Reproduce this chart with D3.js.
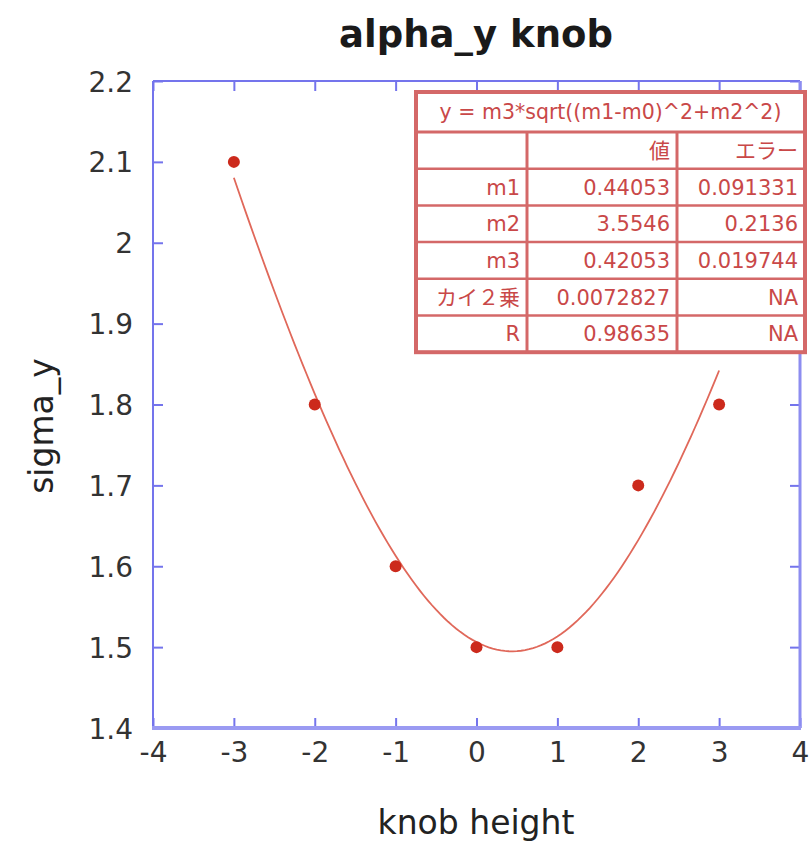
<!DOCTYPE html>
<html>
<head>
<meta charset="utf-8">
<script src="https://cdn.jsdelivr.net/npm/d3@7"></script>
<style>
  body { margin: 0; background: #fff; }
  svg { display: block; }
</style>
</head>
<body>
<div id="chart"></div>
<script>
// measured points
const knobHeight = [-3, -2, -1, 0, 1, 2, 3];
const sigmaY = [2.1, 1.8, 1.6, 1.5, 1.5, 1.7, 1.8];

// fit result table (y = m3*sqrt((m1-m0)^2+m2^2))
const fitFormula = "y = m3*sqrt((m1-m0)^2+m2^2)";
const tableHeader = ["", "値", "エラー"];
const rowNames = ["m1", "m2", "m3", "カイ２乗", "R"];
const rowValues = ["0.44053", "3.5546", "0.42053", "0.0072827", "0.98635"];
const rowErrors = ["0.091331", "0.2136", "0.019744", "NA", "NA"];
const m1 = 0.44053, m2 = 3.5546, m3 = 0.42053;

const xTicks = [-4, -3, -2, -1, 0, 1, 2, 3, 4];
const yTicks = [1.4, 1.5, 1.6, 1.7, 1.8, 1.9, 2, 2.1, 2.2];

const width = 810, height = 844;
const margin = ({ top: 81, right: 10, bottom: 116, left: 153 });

const x = d3.scaleLinear().domain([-4, 4]).range([margin.left, width - margin.right]);
const y = d3.scaleLinear().domain([1.4, 2.2]).range([height - margin.bottom, margin.top]);

const svg = d3.select("#chart").append("svg")
    .attr("width", width)
    .attr("height", height);

const axisFont = "'DejaVu Sans', Verdana, sans-serif";
const blue = "#7474ec";
const red = "#cc2a1c";

// title
svg.append("text")
    .attr("x", 476).attr("y", 47)
    .attr("text-anchor", "middle")
    .attr("font-family", axisFont)
    .attr("font-weight", "bold")
    .attr("font-size", 37)
    .attr("fill", "#1a1a1a")
    .text("alpha_y knob");

// axes with inner ticks
const tickLen = 10;
const fmt = d => String(d); // plain hyphen, like the original

const xb = svg.append("g")
    .attr("transform", `translate(0,${y(1.4)})`)
    .call(d3.axisBottom(x).tickValues(xTicks).tickSizeInner(-tickLen).tickSizeOuter(0).tickPadding(tickLen + 10).tickFormat(fmt));
const xt = svg.append("g")
    .attr("transform", `translate(0,${y(2.2)})`)
    .call(d3.axisTop(x).tickValues(xTicks).tickSizeInner(-tickLen).tickSizeOuter(0).tickFormat(""));
const yl = svg.append("g")
    .attr("transform", `translate(${x(-4)},0)`)
    .call(d3.axisLeft(y).tickValues(yTicks).tickSizeInner(-tickLen).tickSizeOuter(0).tickPadding(20).tickFormat(fmt));
const yr = svg.append("g")
    .attr("transform", `translate(${x(4)},0)`)
    .call(d3.axisRight(y).tickValues(yTicks).tickSizeInner(-tickLen).tickSizeOuter(0).tickFormat(""));

[xb, xt, yl, yr].forEach(g => {
    g.select(".domain").remove();
    g.selectAll(".tick line").attr("stroke", blue).attr("stroke-width", 2);
    g.selectAll(".tick text")
        .attr("font-family", axisFont)
        .attr("font-size", 28)
        .attr("fill", "#333");
});
xb.selectAll(".tick text").attr("dy", "0.5em");
yl.selectAll(".tick text").attr("dy", "0.36em");

// frame
svg.append("line").attr("x1", x(-4)).attr("x2", x(-4)).attr("y1", y(2.2)).attr("y2", y(1.4))
    .attr("stroke", blue).attr("stroke-width", 2);
svg.append("line").attr("x1", x(-4)).attr("x2", x(4)).attr("y1", y(2.2)).attr("y2", y(2.2))
    .attr("stroke", blue).attr("stroke-width", 2);
svg.append("line").attr("x1", x(4)).attr("x2", x(4)).attr("y1", y(2.2)).attr("y2", y(1.4))
    .attr("stroke", "#8d8df0").attr("stroke-width", 3);
svg.append("line").attr("x1", x(-4) - 1).attr("x2", x(4) + 1).attr("y1", y(1.4)).attr("y2", y(1.4))
    .attr("stroke", "#9a9af2").attr("stroke-width", 4);

// axis titles
svg.append("text")
    .attr("x", 476).attr("y", 834)
    .attr("text-anchor", "middle")
    .attr("font-family", axisFont)
    .attr("font-size", 33)
    .attr("fill", "#222")
    .text("knob height");

svg.append("text")
    .attr("transform", "translate(53,426) rotate(-90)")
    .attr("text-anchor", "middle")
    .attr("font-family", axisFont)
    .attr("font-size", 33)
    .attr("fill", "#222")
    .text("sigma_y");

// fit curve
const curveX = d3.range(-3, 3.0001, 0.05);
const fitLine = d3.line()
    .x(d => x(d))
    .y(d => y(m3 * Math.sqrt((m1 - d) ** 2 + m2 ** 2)));
svg.append("path")
    .datum(curveX)
    .attr("fill", "none")
    .attr("stroke", "#e0685a")
    .attr("stroke-width", 1.8)
    .attr("d", fitLine);

// points
svg.append("g")
    .selectAll("circle")
    .data(knobHeight)
    .join("circle")
    .attr("cx", d => x(d))
    .attr("cy", (d, i) => y(sigmaY[i]))
    .attr("r", 6)
    .attr("fill", red);

// fit table
const tb = { x: 416, y: 92, w: 389, titleH: 40, rowH: 36.7 };
const colX = [416, 527, 677, 805];
const tableColor = "#d46868";
const textColor = "#c94848";
const tableFont = "'DejaVu Sans', 'Noto Sans CJK JP', sans-serif";
const nRows = rowNames.length + 1;
const tableH = tb.titleH + nRows * tb.rowH;
const table = svg.append("g");

table.append("rect")
    .attr("x", tb.x).attr("y", tb.y)
    .attr("width", tb.w).attr("height", tableH)
    .attr("fill", "#fff")
    .attr("stroke", tableColor).attr("stroke-width", 4);

// horizontal separators
d3.range(nRows).forEach(i => {
    const yy = tb.y + tb.titleH + i * tb.rowH;
    table.append("line")
        .attr("x1", tb.x).attr("x2", tb.x + tb.w)
        .attr("y1", yy).attr("y2", yy)
        .attr("stroke", tableColor).attr("stroke-width", i === 0 ? 3 : 2.5);
});
// vertical separators
[colX[1], colX[2]].forEach(cx => {
    table.append("line")
        .attr("x1", cx).attr("x2", cx)
        .attr("y1", tb.y + tb.titleH).attr("y2", tb.y + tableH)
        .attr("stroke", tableColor).attr("stroke-width", 3);
});

table.append("text")
    .attr("x", (tb.x + tb.x + tb.w) / 2).attr("y", tb.y + tb.titleH / 2 + 7)
    .attr("text-anchor", "middle")
    .attr("font-family", tableFont)
    .attr("font-size", 20.5)
    .attr("fill", textColor)
    .text(fitFormula);

const rows = [tableHeader].concat(rowNames.map((n, i) => [n, rowValues[i], rowErrors[i]]));
rows.forEach((r, i) => {
    const yy = tb.y + tb.titleH + i * tb.rowH + tb.rowH / 2 + 7.5;
    r.forEach((t, j) => {
        table.append("text")
            .attr("x", colX[j + 1] - 7)
            .attr("y", yy)
            .attr("text-anchor", "end")
            .attr("font-family", tableFont)
            .attr("font-size", 21)
            .attr("fill", textColor)
            .text(t);
    });
});
</script>
</body>
</html>
